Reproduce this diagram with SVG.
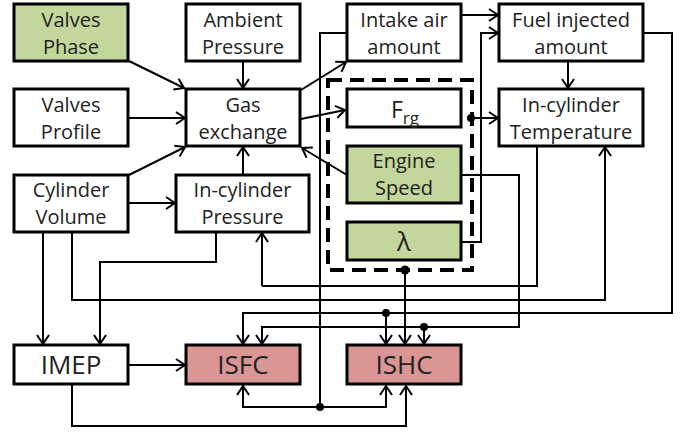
<svg xmlns="http://www.w3.org/2000/svg" width="680" height="432" viewBox="0 0 680 432">
<style>
.box{fill:#fff;stroke:#000;stroke-width:3}
.g{fill:#c3d69b}
.p{fill:#d99694}
text{font-family:"Open Sans","Noto Sans",sans-serif;font-size:20px;fill:#222;text-anchor:middle}
text.big{font-size:26px}
text.f{font-size:23px}
.sub{font-size:17px}
.c{fill:none;stroke:#000;stroke-width:2;marker-end:url(#a)}
.n{fill:none;stroke:#000;stroke-width:2}
.dot{fill:#000}
</style>
<defs>
<marker id="a" markerUnits="userSpaceOnUse" markerWidth="12" markerHeight="14" viewBox="0 0 12 14" refX="10" refY="7" orient="auto" overflow="visible">
<path d="M1,1 L10,7 L1,13" fill="none" stroke="#000" stroke-width="2"/>
</marker>
</defs>
<rect x="328" y="80" width="144" height="190" fill="none" stroke="#000" stroke-width="4" stroke-dasharray="14 8"/>
<g id="connectors">
<path class="c" d="M129,61 L184,88"/>
<path class="c" d="M243,62 L243,88"/>
<path class="c" d="M129,118 L185,118"/>
<path class="c" d="M129,175 L185,147"/>
<path class="c" d="M243,175 L243,147"/>
<path class="c" d="M347,175 L302,148"/>
<path class="c" d="M301,90 L346,62"/>
<path class="c" d="M301,119 L345,110"/>
<path class="c" d="M129,203 L175,203"/>
<path class="c" d="M461,15 L498,15"/>
<path class="n" d="M347,33 L320,33 L320,407"/>
<path class="c" d="M320,407 L243,407 L243,386"/>
<path class="c" d="M320,407 L386,407 L386,386"/>
<circle class="dot" cx="320" cy="407" r="4"/>
<path class="c" d="M643,33 L672,33 L672,313 L243,313 L243,344"/>
<path class="c" d="M386,313 L386,344"/>
<circle class="dot" cx="386" cy="313" r="4"/>
<path class="c" d="M461,242 L481,242 L481,33 L498,33"/>
<path class="c" d="M471,118 L498,118"/>
<circle class="dot" cx="471" cy="118" r="4"/>
<path class="c" d="M568,61 L568,88"/>
<path class="n" d="M537,146 L537,286 L262,286"/>
<path class="c" d="M262,286 L262,233"/>
<path class="c" d="M72,232 L72,300 L605,300 L605,147"/>
<path class="c" d="M461,175 L519,175 L519,327 L262,327 L262,344"/>
<path class="c" d="M424,327 L424,344"/>
<circle class="dot" cx="424" cy="327" r="4"/>
<path class="c" d="M43,232 L43,344"/>
<path class="c" d="M216,232 L216,262 L100,262 L100,344"/>
<path class="c" d="M405,270 L405,344"/>
<circle class="dot" cx="405" cy="270" r="4.5"/>
<path class="c" d="M129,365 L185,365"/>
<path class="c" d="M72,384 L72,426 L406,426 L406,386"/>
</g>
<g id="valves-phase"><rect class="box g" x="14" y="4" width="114" height="57"/><text x="71" y="27">Valves</text><text x="71" y="54">Phase</text></g>
<g id="ambient-pressure"><rect class="box" x="186" y="4" width="114" height="57"/><text x="243" y="27">Ambient</text><text x="243" y="54">Pressure</text></g>
<g id="valves-profile"><rect class="box" x="14" y="89" width="114" height="57"/><text x="71" y="112">Valves</text><text x="71" y="139">Profile</text></g>
<g id="gas-exchange"><rect class="box" x="186" y="89" width="114" height="57"/><text x="243" y="112">Gas</text><text x="243" y="139">exchange</text></g>
<g id="intake-air"><rect class="box" x="347" y="4" width="114" height="57"/><text x="404" y="27">Intake air</text><text x="404" y="54">amount</text></g>
<g id="fuel-injected"><rect class="box" x="499" y="4" width="144" height="57"/><text x="571" y="27">Fuel injected</text><text x="571" y="54">amount</text></g>
<g id="frg"><rect class="box" x="347" y="89" width="114" height="38"/><text x="405" y="118" class="f">F<tspan class="sub" dy="6">rg</tspan></text></g>
<g id="temperature"><rect class="box" x="499" y="89" width="144" height="57"/><text x="571" y="112">In-cylinder</text><text x="571" y="139">Temperature</text></g>
<g id="engine-speed"><rect class="box g" x="347" y="146" width="114" height="57"/><text x="404" y="168">Engine</text><text x="404" y="195">Speed</text></g>
<g id="lambda"><rect class="box g" x="347" y="222" width="114" height="38"/><text x="404" y="251" class="big">λ</text></g>
<g id="cylinder-volume"><rect class="box" x="14" y="175" width="114" height="57"/><text x="71" y="197">Cylinder</text><text x="71" y="224">Volume</text></g>
<g id="in-cylinder-pressure"><rect class="box" x="176" y="175" width="133" height="57"/><text x="242.5" y="197">In-cylinder</text><text x="242.5" y="224">Pressure</text></g>
<g id="imep"><rect class="box" x="14" y="345" width="114" height="39"/><text x="71" y="374" class="big">IMEP</text></g>
<g id="isfc"><rect class="box p" x="186" y="345" width="114" height="39"/><text x="243" y="374" class="big">ISFC</text></g>
<g id="ishc"><rect class="box p" x="347" y="345" width="114" height="39"/><text x="404" y="374" class="big">ISHC</text></g>
</svg>
